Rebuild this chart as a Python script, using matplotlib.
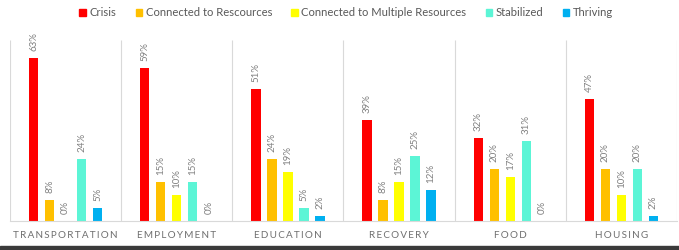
import matplotlib.pyplot as plt
from matplotlib.patches import Patch
import numpy as np

plt.rcParams['font.family'] = ['Lato', 'DejaVu Sans']

categories = ['TRANSPORTATION', 'EMPLOYMENT', 'EDUCATION', 'RECOVERY', 'FOOD', 'HOUSING']
series = ['Crisis', 'Connected to Rescources', 'Connected to Multiple Resources', 'Stabilized', 'Thriving']
colors = ['#FF0000', '#FFC000', '#FFFF00', '#5CF5D6', '#00B0F0']

crisis = [63, 59, 51, 39, 32, 47]
connected = [8, 15, 24, 8, 20, 20]
multiple = [0, 10, 19, 15, 17, 10]
stabilized = [24, 15, 5, 25, 31, 20]
thriving = [5, 0, 2, 12, 0, 2]
values = [crisis, connected, multiple, stabilized, thriving]

fig = plt.figure(figsize=(6.79, 2.5), dpi=100)
ax = fig.add_axes([10 / 679, 29 / 250, 667 / 679, 181 / 250])

x = np.arange(len(categories))
step = 0.144
width = 0.085
for k, (vals, col) in enumerate(zip(values, colors)):
    pos = x + (k - 2) * step
    ax.bar(pos, vals, width=width, color=col, zorder=2)
    for p, v in zip(pos, vals):
        ax.text(p, v + 2.8, f'{v}%', rotation=90, ha='center', va='bottom',
                fontsize=7, color='#808080')

ax.set_xlim(-0.5, len(categories) - 0.5)
ax.set_ylim(0, 70)
ax.vlines(np.arange(len(categories) + 1) - 0.5, 0, 70, color='#d9d9d9', linewidth=0.8, zorder=1)
for s in ['top', 'left', 'right']:
    ax.spines[s].set_visible(False)
ax.spines['bottom'].set_color('#d9d9d9')
ax.set_yticks([])
ax.set_xticks([])
for i, c in enumerate(categories):
    ax.text(i, -5.5, '\u2009'.join(c), ha='center', va='center', fontsize=7.1,
            color='#6f6f6f', family=['Lato', 'DejaVu Sans'])

handles = [Patch(color=c, label=s) for s, c in zip(series, colors)]
fig.legend(handles=handles, loc='center', bbox_to_anchor=(0.51, 0.948), ncol=5, frameon=False,
           fontsize=8.1, handlelength=0.6, handleheight=0.6, handletextpad=0.3,
           columnspacing=1.7, labelcolor='#595959')

fig.add_artist(plt.Rectangle((0, 0), 1, 4 / 250, transform=fig.transFigure, color='#3a3a3a'))

fig.savefig('out.png', dpi=100)
